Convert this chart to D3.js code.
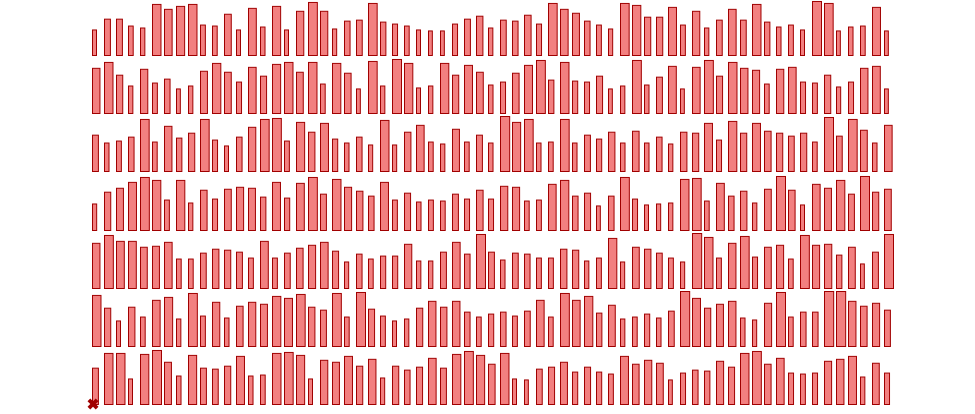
<!DOCTYPE html>
<html>
<head>
<meta charset="utf-8">
<script src="https://cdn.jsdelivr.net/npm/d3@7"></script>
<style>
  html, body { margin: 0; padding: 0; background: #fff; }
  svg { display: block; }
</style>
</head>
<body>
<svg id="chart" width="975" height="414"></svg>
<script>
const row1 = [26,37,37,30,28,52,47,50,52,31,30,42,26,48,29,50,26,45,54,45,
  27,35,36,53,34,32,30,26,25,25,32,37,40,28,36,35,41,32,53,47,43,35,31,27,
  53,51,39,39,49,31,45,28,36,47,36,52,34,29,31,26,55,53,25,29,30,49,25];
const row2 = [46,52,39,28,45,31,35,25,28,43,51,42,32,47,38,50,52,42,52,30,
  51,41,25,53,28,55,51,26,28,51,39,49,42,29,32,41,49,54,34,52,33,32,38,25,
  28,54,29,37,48,25,47,54,38,52,46,44,30,45,47,32,31,39,27,32,46,48,25];
const row3 = [37,29,31,35,53,30,46,34,39,53,32,26,35,45,53,54,31,50,40,49,
  33,29,35,27,52,27,40,47,30,28,43,30,37,29,56,50,53,29,30,53,29,37,33,40,
  29,41,29,35,28,40,39,49,32,51,39,49,41,39,36,39,30,55,36,53,42,29,47];
const row4 = [27,39,43,49,54,51,31,51,28,41,32,42,44,43,34,49,33,48,54,37,
  52,44,40,35,49,31,38,29,31,30,37,32,41,32,45,44,30,31,47,51,35,38,25,35,
  54,32,26,27,28,52,53,30,48,35,40,28,42,55,41,26,47,43,51,37,55,39,42];
const row5 = [46,54,48,48,42,43,47,30,30,36,40,39,37,31,48,31,36,41,44,47,
  38,27,35,30,33,33,45,28,28,37,47,35,55,37,29,36,35,31,31,40,39,28,31,51,
  27,42,40,36,31,27,56,52,31,46,53,32,42,44,30,54,44,45,34,42,25,37,55];
const row6 = [52,39,26,40,30,47,50,28,54,31,45,29,41,45,43,51,49,53,40,37,
  54,30,55,38,31,26,28,39,46,40,46,35,30,33,35,31,36,47,30,54,47,51,34,42,
  28,30,33,29,36,56,49,39,43,46,29,27,44,55,30,35,35,56,56,46,41,44,37];
const row7 = [37,52,52,26,51,55,43,29,50,37,36,39,49,29,30,52,53,50,26,45,
  43,49,39,46,27,39,35,38,47,37,51,54,50,41,52,26,25,36,38,43,33,38,33,31,
  49,41,45,42,25,32,35,34,44,38,52,54,41,47,32,31,32,44,46,49,28,42,32];
const rows = [row1, row2, row3, row4, row5, row6, row7];

const svg = d3.select("#chart");
const n = row1.length;

const x = d3.scaleLinear().domain([0, n - 1]).range([92, 92 + 12 * (n - 1)]);
const rowBase = d3.scaleLinear().domain([0, rows.length - 1]).range([55, 404]);
const h = d3.scaleLinear().domain([0, 56]).range([0, 55]);
const w = d3.scaleLinear().domain([26, 55]).range([4, 9]);

const g = svg.append("g");
rows.forEach((vals, r) => {
  const base = Math.round(rowBase(r)) + 0.5;
  g.append("g").selectAll("rect").data(vals).join("rect")
    .attr("x", (d, i) => x(i) + 0.5)
    .attr("y", d => base - h(d))
    .attr("width", d => w(d))
    .attr("height", d => h(d))
    .attr("fill", "#f28080")
    .attr("stroke", "#a00000")
    .attr("stroke-width", 1);
});

svg.append("path")
  .attr("d", d3.symbol(d3.symbolCross, 75)())
  .attr("transform", `translate(${x(0) + 1},${rowBase(6)}) rotate(45)`)
  .attr("fill", "#a00000");
</script>
</body>
</html>
